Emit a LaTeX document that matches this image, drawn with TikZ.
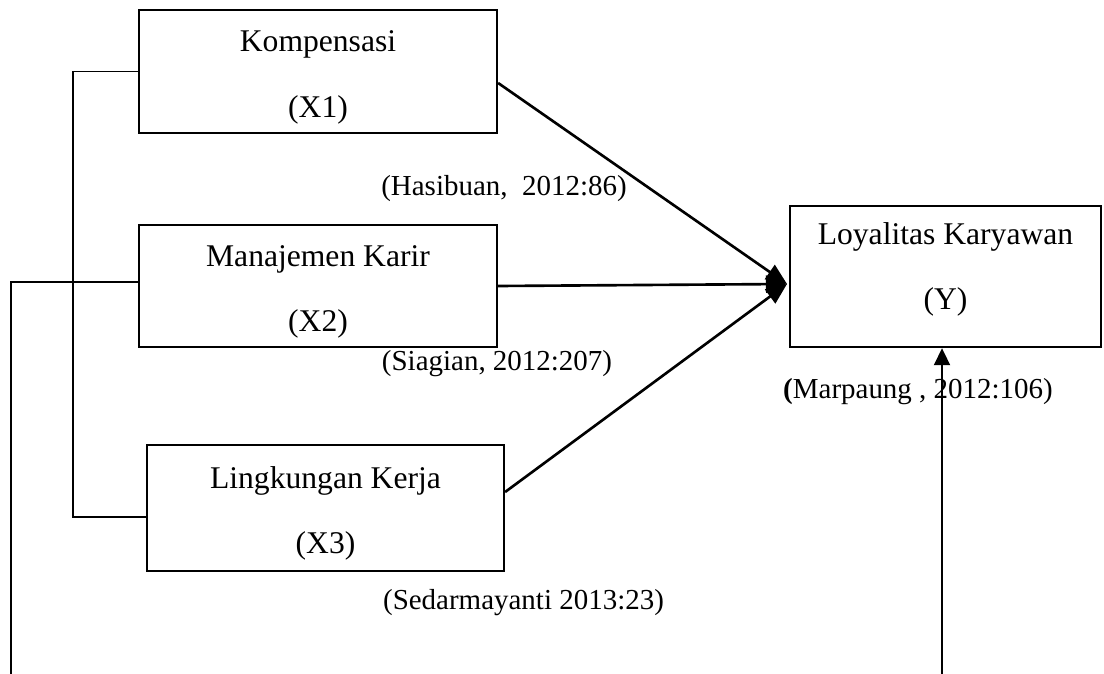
\documentclass[tikz,border=0pt]{standalone}
\usepackage{fontspec}
\setmainfont{Liberation Serif}
\usetikzlibrary{arrows.meta,calc}
\newcommand{\pxu}{0.3797pt}
\newcommand{\topstrut}{\rule{0pt}{12.5pt}}
\tikzset{
  var-box/.style={draw,line width=0.85pt,align=center,inner sep=0pt,
    font=\fontsize{12}{24.8}\selectfont},
  var-box-up/.style={execute at end node={\rule[-8pt]{0pt}{8pt}}},
  src-label/.style={font=\fontsize{11}{13}\selectfont,inner sep=0pt},
  arrow/.style={-{Triangle[length=8pt,width=6.5pt]},line width=1pt},
  arrow-up/.style={-{Triangle[length=6.5pt,width=6pt]},line width=1pt},
  link/.style={line width=0.6pt},
}

\begin{document}
\begin{tikzpicture}[x=\pxu,y=-\pxu]
  \useasboundingbox (0,0) rectangle (1104,674);
  % variabel bebas dan terikat
  \node[var-box,minimum width={358*\pxu},minimum height={123*\pxu}] (x1) at (318,71.5) {\topstrut Kompensasi\\(X1)};
  \node[var-box,minimum width={358*\pxu},minimum height={122*\pxu}] (x2) at (318,286) {\topstrut Manajemen Karir\\(X2)};
  \node[var-box,minimum width={357*\pxu},minimum height={126*\pxu}] (x3) at (325.5,508) {\topstrut Lingkungan Kerja\\(X3)};
  \node[var-box,var-box-up,minimum width={311*\pxu},minimum height={141*\pxu}] (y) at (945.5,276.5) {Loyalitas Karyawan\\(Y)};
  % sumber teori
  \node[src-label] (hasibuan) at (504,189) {(Hasibuan,\ \ 2012:86)};
  \node[src-label] (siagian) at (497,364) {(Siagian, 2012:207)};
  \node[src-label] (sedar) at (523.5,603) {(Sedarmayanti 2013:23)};
  \node[src-label] (marpaung) at (918,392) {\textbf{(}Marpaung , 2012:106)};
  \coordinate (hub) at (787,284);
  \coordinate (lbot) at (11,674);
  \coordinate (rbot) at (942,674);
  \draw[arrow] ([shift={(0,11.5)}]x1.east) -- (hub);
  \draw[arrow] (x2.east) -- (hub);
  \draw[arrow] ([shift={(0,-16)}]x3.east) -- (hub);
  \draw[link] (x1.west) -| ([shift={(-73,9)}]x3.west) -- ([shift={(0,9)}]x3.west);
  \draw[link] ([shift={(0,-4)}]x2.west) -| (lbot);
  \draw[arrow-up] (rbot) -- (rbot |- y.south);
\end{tikzpicture}
\end{document}
